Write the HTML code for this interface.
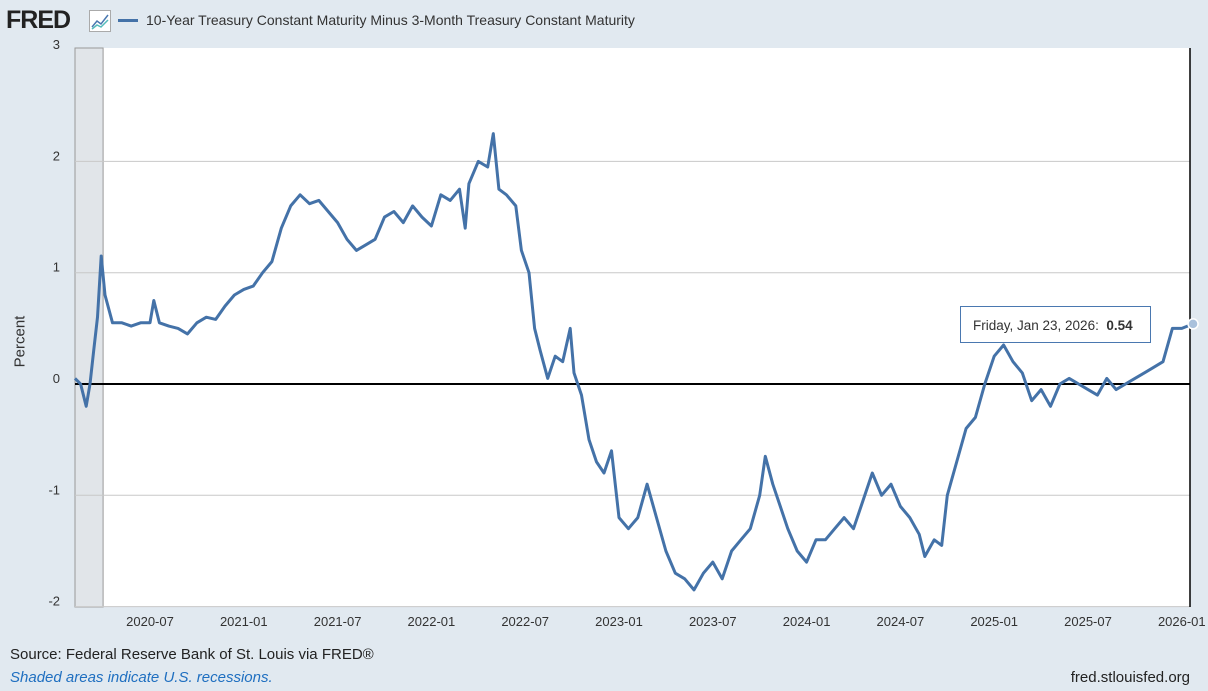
<!DOCTYPE html>
<html><head><meta charset="utf-8"><style>
body{margin:0;width:1208px;height:691px;background:#e1e9f0;font-family:"Liberation Sans",sans-serif;overflow:hidden;position:relative}
.abs{position:absolute}
</style></head><body>
<div class="abs" style="left:6px;top:6px;font-weight:bold;font-size:25px;letter-spacing:-1px;color:#222">FRED</div>
<svg class="abs" style="left:89px;top:10px" width="22" height="22"><rect x="0.5" y="0.5" width="21" height="21" fill="#fff" stroke="#aaa"/><polyline points="3,17 8,11 12,14 19,5" fill="none" stroke="#4a78b0" stroke-width="1.5"/><polyline points="3,19 8,15 12,17 19,10" fill="none" stroke="#5bb" stroke-width="1.5"/></svg>
<div class="abs" style="left:118px;top:12px;font-size:14px;color:#333;display:flex;align-items:center"><span style="display:inline-block;width:20px;height:3px;background:#4472a8;margin-right:8px"></span>10-Year Treasury Constant Maturity Minus 3-Month Treasury Constant Maturity</div>
<svg class="abs" style="left:0;top:0" width="1208" height="691" id="chart"></svg>
<div class="abs" style="left:-10px;top:333px;width:60px;text-align:center;transform:rotate(-90deg);font-size:15px;color:#333">Percent</div>
<div class="abs" style="left:10px;top:646px;font-size:15px;color:#222">Source: Federal Reserve Bank of St. Louis via FRED®</div>
<div class="abs" style="left:10px;top:669px;font-size:15px;color:#1f6fc0;font-style:italic">Shaded areas indicate U.S. recessions.</div>
<div class="abs" style="right:18px;top:669px;font-size:15px;color:#222">fred.stlouisfed.org</div>
<div class="abs" style="left:960px;top:306px;width:191px;height:37px;background:#fff;border:1px solid #4a78b0;font-size:13.5px;color:#333;line-height:37px;padding-left:12px;box-sizing:border-box">Friday, Jan 23, 2026:&nbsp; <b>0.54</b></div>
<script>
const times=[2020.10,2020.13,2020.16,2020.18,2020.20,2020.22,2020.24,2020.26,2020.30,2020.35,2020.40,2020.45,2020.50,2020.52,2020.55,2020.60,2020.65,2020.70,2020.75,2020.80,2020.85,2020.90,2020.95,2021.00,2021.05,2021.10,2021.15,2021.20,2021.25,2021.30,2021.35,2021.40,2021.45,2021.50,2021.55,2021.60,2021.65,2021.70,2021.75,2021.80,2021.85,2021.90,2021.95,2022.00,2022.05,2022.10,2022.15,2022.18,2022.20,2022.25,2022.30,2022.33,2022.36,2022.40,2022.45,2022.48,2022.52,2022.55,2022.58,2022.62,2022.66,2022.70,2022.74,2022.76,2022.80,2022.84,2022.88,2022.92,2022.96,2023.00,2023.05,2023.10,2023.15,2023.20,2023.25,2023.30,2023.35,2023.40,2023.45,2023.50,2023.55,2023.60,2023.65,2023.70,2023.75,2023.78,2023.82,2023.86,2023.90,2023.95,2024.00,2024.05,2024.10,2024.15,2024.20,2024.25,2024.30,2024.35,2024.40,2024.45,2024.50,2024.55,2024.60,2024.63,2024.68,2024.72,2024.75,2024.80,2024.85,2024.90,2024.95,2025.00,2025.05,2025.10,2025.15,2025.20,2025.25,2025.30,2025.35,2025.40,2025.45,2025.50,2025.55,2025.60,2025.65,2025.70,2025.75,2025.80,2025.85,2025.90,2025.95,2026.00,2026.06];
const values=[0.05,0.0,-0.2,0.0,0.3,0.6,1.15,0.8,0.55,0.55,0.52,0.55,0.55,0.75,0.55,0.52,0.5,0.45,0.55,0.6,0.58,0.7,0.8,0.85,0.88,1.0,1.1,1.4,1.6,1.7,1.62,1.65,1.55,1.45,1.3,1.2,1.25,1.3,1.5,1.55,1.45,1.6,1.5,1.42,1.7,1.65,1.75,1.4,1.8,2.0,1.95,2.25,1.75,1.7,1.6,1.2,1.0,0.5,0.3,0.05,0.25,0.2,0.5,0.1,-0.1,-0.5,-0.7,-0.8,-0.6,-1.2,-1.3,-1.2,-0.9,-1.2,-1.5,-1.7,-1.75,-1.85,-1.7,-1.6,-1.75,-1.5,-1.4,-1.3,-1.0,-0.65,-0.9,-1.1,-1.3,-1.5,-1.6,-1.4,-1.4,-1.3,-1.2,-1.3,-1.05,-0.8,-1.0,-0.9,-1.1,-1.2,-1.35,-1.55,-1.4,-1.45,-1.0,-0.7,-0.4,-0.3,0.0,0.25,0.35,0.2,0.1,-0.15,-0.05,-0.2,0.0,0.05,0.0,-0.05,-0.1,0.05,-0.05,0.0,0.05,0.1,0.15,0.2,0.5,0.5,0.54];
const yTicks=[3,2,1,0,-1,-2];
const xTickLabels=["2020-07","2021-01","2021-07","2022-01","2022-07","2023-01","2023-07","2024-01","2024-07","2025-01","2025-07","2026-01"];
const xTickTimes=[2020.5,2021,2021.5,2022,2022.5,2023,2023.5,2024,2024.5,2025,2025.5,2026];
const recStart=2020.10, recEnd=2020.25;
const L=75,R=1190,T=48,B=607;
const xs=t=>150+(t-2020.5)*187.6;
const ys=v=>384-v*111.3;
const svg=document.getElementById('chart');const NS='http://www.w3.org/2000/svg';
function mk(tag,at){const e=document.createElementNS(NS,tag);for(const k in at)e.setAttribute(k,at[k]);svg.appendChild(e);return e;}
let e=mk('rect',{x:L,y:T,width:R-L,height:B-T,fill:'#fff'});


e=mk('rect',{x:L,y:T,width:xs(recEnd)-L,height:B-T,fill:'#e1e5e9',stroke:'#999','stroke-width':1});


yTicks.forEach(v=>{
 if(v!==0&&v!==3){const g=mk('line',{x1:L,x2:R,y1:ys(v),y2:ys(v),stroke:'#c8c8c8','stroke-width':1});
 
 }
 const t=mk('text',{x:60,y:ys(v)-1,'text-anchor':'end','font-size':13,fill:'#333','font-family':'Liberation Sans'});
 
 
 t.textContent=v;
});
e=mk('line',{x1:L,x2:R,y1:ys(0),y2:ys(0),stroke:'#000','stroke-width':2});


e=mk('line',{x1:R,x2:R,y1:T,y2:B,stroke:'#000','stroke-width':1.5});


xTickTimes.forEach((t,i)=>{
 const x=mk('text',{x:xs(t),y:626,'text-anchor':'middle','font-size':13,fill:'#333','font-family':'Liberation Sans'});
 
 
 x.textContent=xTickLabels[i];
});
const pts=times.map((t,i)=>xs(t).toFixed(1)+','+ys(values[i]).toFixed(1)).join(' ');
e=mk('polyline',{points:pts,fill:'none',stroke:'#4472a8','stroke-width':3,'stroke-linejoin':'round'});


const n=times.length-1;
e=mk('circle',{cx:xs(times[n]),cy:ys(values[n]),r:5,fill:'#a9c1dc',stroke:'#fff','stroke-width':1.5});


</script>
</body></html>
